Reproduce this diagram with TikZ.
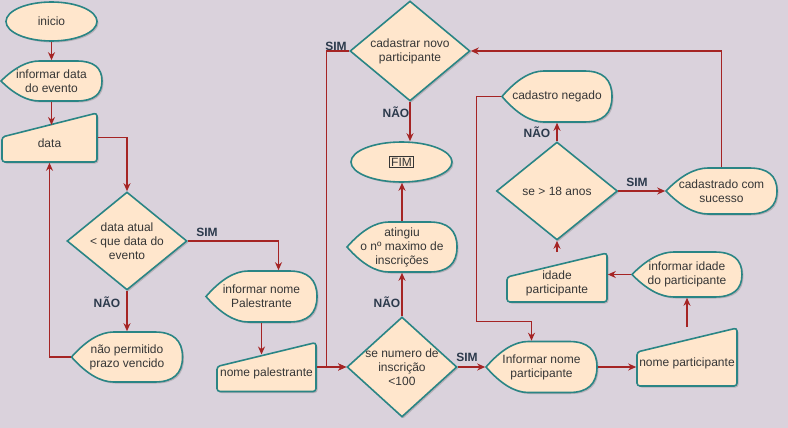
\documentclass[tikz,border=0pt]{standalone}
\usepackage{fontspec}
\setmainfont{Liberation Sans}
\usetikzlibrary{shapes.geometric,arrows.meta,shadows}

\definecolor{bgcol}{HTML}{DAD2DC}
\definecolor{boxfill}{HTML}{FFE6CC}
\definecolor{boxline}{HTML}{2A8585}
\definecolor{linkred}{HTML}{A52424}
\definecolor{boxtxt}{HTML}{363636}
\definecolor{anstxt}{HTML}{2C3A4C}

\setlength{\fboxsep}{1pt}
\setlength{\fboxrule}{0.8pt}

\tikzset{
    shapeline/.style={fill=boxfill, draw=boxline, line width=1.6pt,
        drop shadow={shadow xshift=1.5pt, shadow yshift=-1.5pt, opacity=0.25, fill=black!70}},
    boxtext/.style={text=boxtxt, align=center, font=\fontsize{12}{14}\selectfont,
        inner sep=0pt, outer sep=0.8pt},
    terminal/.style={shapeline, boxtext, ellipse},
    decision/.style={shapeline, boxtext, diamond, inner sep=-8pt},
    link/.style={draw=linkred, line width=1.1pt, -{Stealth[length=8pt,width=7pt]}},
    answer/.style={text=anstxt, font=\fontsize{12}{14}\selectfont\bfseries, inner sep=0pt},
}

% name, centre, width, height, text
\newcommand{\displaynode}[5]{%
    \begin{scope}[shift={#2}]
        \path[shapeline] (-#3/2,0)
            .. controls (-0.367*#3,-#4/3) and (-0.24*#3,-#4/2) .. (-0.12*#3,-#4/2)
            -- (0.25*#3,-#4/2)
            .. controls (0.417*#3,-#4/2) and (#3/2,-#4/3) .. (#3/2,0)
            .. controls (#3/2,#4/3) and (0.417*#3,#4/2) .. (0.25*#3,#4/2)
            -- (-0.12*#3,#4/2)
            .. controls (-0.24*#3,#4/2) and (-0.367*#3,#4/3) .. (-#3/2,0) -- cycle;
        \node[boxtext, minimum width=#3pt, minimum height=#4pt] (#1) at (0,0) {#5};
    \end{scope}
}

% name, centre, width, height, text
\newcommand{\inputnode}[5]{%
    \begin{scope}[shift={#2}]
        \path[shapeline, rounded corners=3pt] (-#3/2,-#4/2+24) -- (#3/2,-#4/2)
            -- (#3/2,#4/2) -- (-#3/2,#4/2) -- cycle;
        \coordinate (#1-in) at (0,-#4/2+12);
        \node[minimum width=#3pt, minimum height=#4pt, outer sep=0.8pt,
            label={[boxtext, yshift=-6pt]center:{#5}}] (#1) at (0,0) {};
    \end{scope}
}

\begin{document}
\begin{tikzpicture}[x=1pt, y=-1pt]

    \fill[bgcol] (0,0) rectangle (788,428);
    \useasboundingbox (0,0) rectangle (788,428);

    \node[terminal, minimum width=91pt, minimum height=39pt] (inicio) at (51.5,21.5) {inicio};
    \displaynode{infdata}{(51.5,81)}{101}{40}{informar data\\do evento}
    \inputnode{data}{(49.5,137.5)}{95}{49}{data}
    \node[decision, minimum width=120pt, minimum height=98pt] (datacheck) at (127,241)
        {data atual\\< que data do\\evento};
    \displaynode{negp}{(127,357)}{111}{50}{não permitido\\prazo vencido}
    \displaynode{infpal}{(261.5,296.5)}{111}{51}{informar nome\\Palestrante}
    \inputnode{nompal}{(266.5,367)}{99}{49}{nome palestrante}

    \node[decision, minimum width=120pt, minimum height=100pt] (cadastrar) at (410,51)
        {cadastrar novo\\participante};
    \node[terminal, minimum width=101pt, minimum height=40pt] (fim) at (401.5,162) {\fbox{FIM}};
    \displaynode{atingiu}{(402,247)}{110}{50}{atingiu\\o nº maximo de\\inscrições}
    \node[decision, minimum width=110pt, minimum height=100pt] (numcheck) at (402,367)
        {se numero de\\inscrição\\<100};

    \displaynode{infpart}{(541.5,367)}{111}{51}{Informar nome\\participante}
    \inputnode{nompart}{(687,357)}{100}{58}{nome participante}
    \displaynode{infidade}{(687,274.5)}{110}{45}{informar idade\\do participante}
    \inputnode{idade}{(557,277.5)}{100}{49}{idade\\participante}
    \node[decision, minimum width=121pt, minimum height=98pt] (agecheck) at (557,191)
        {se > 18 anos};
    \displaynode{negado}{(557,96.5)}{110}{51}{cadastro negado}
    \displaynode{sucesso}{(721.5,191)}{111}{46}{cadastrado com\\sucesso}

    \node[answer] (sim1) at (207,232) {SIM};
    \node[answer] (nao1) at (107,302) {NÃO};
    \node[answer] (sim2) at (336,46) {SIM};
    \node[answer] (nao2) at (396,112) {NÃO};
    \node[answer] (nao3) at (387,302) {NÃO};
    \node[answer] (sim3) at (467,357) {SIM};
    \node[answer] (nao4) at (537,132) {NÃO};
    \node[answer] (sim4) at (637,182) {SIM};

    \draw[link] (inicio) -- (infdata);
    \draw[link] (infdata) -- (infdata |- data-in);
    \draw[link] (data.east) -| (datacheck.north);
    \draw[link] (datacheck.east) -| ([xshift=17pt]infpal.north);
    \draw[link] (datacheck) -- (negp);
    \draw[link] (negp.west) -| (data.south);
    \draw[link] (infpal.south) -- (infpal.south |- nompal-in);
    \draw[link] (nompal.east) -- (numcheck.west);
    \draw[link] (cadastrar.west) -- ++(-23,0) |- (numcheck.west);
    \draw[link] (cadastrar.south) -- (cadastrar.south |- fim.north);
    \draw[link] (numcheck) -- (atingiu);
    \draw[link] (atingiu.north) -- (atingiu.north |- fim.south);
    \draw[link] (numcheck.east) -- (infpart.west);
    \draw[link] (infpart.east) -- (infpart.east -| nompart.west);
    \draw[link] (nompart.north) -- (infidade.south);
    \draw[link] (infidade.west) -- (infidade.west -| idade.east);
    \draw[link] (idade.north) -- (agecheck.south);
    \draw[link] (agecheck.north) -- (negado.south);
    \draw[link] (agecheck.east) -- (sucesso.west);
    \draw[link] (sucesso.north) |- (cadastrar.east);
    \draw[link] (negado.west) -- ++(-25,0) |- ([shift={(-10,-19)}]infpart.north)
        -- ([xshift=-10pt]infpart.north);

\end{tikzpicture}
\end{document}
